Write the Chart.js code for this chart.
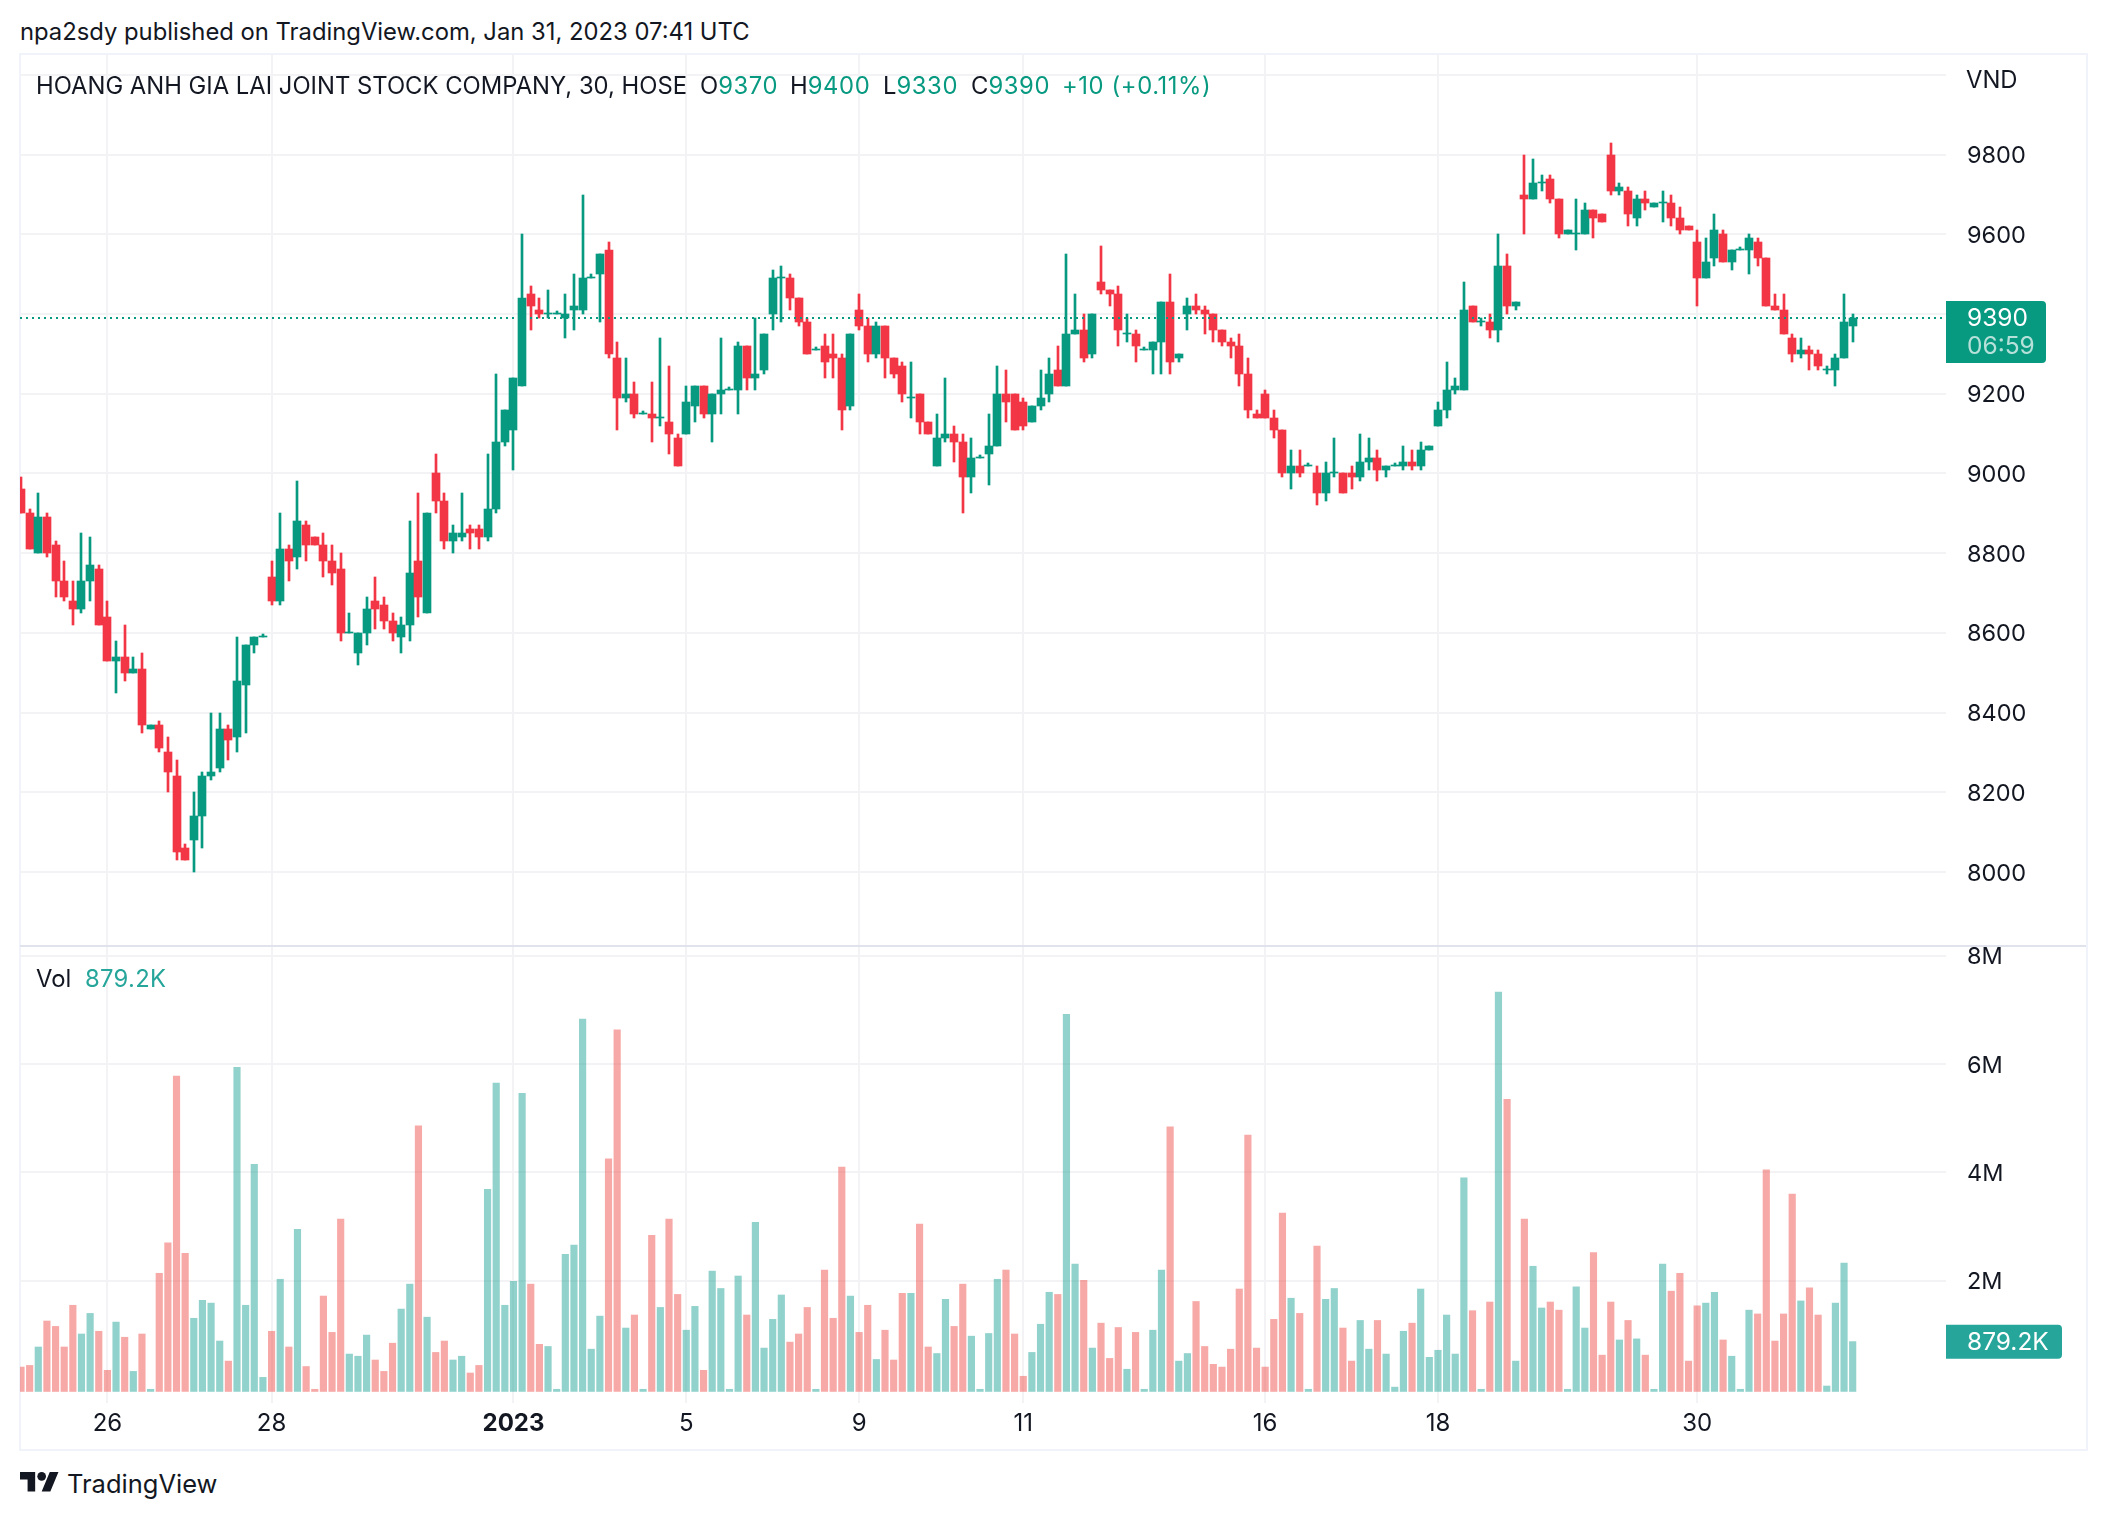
<!DOCTYPE html>
<html>
<head>
<meta charset="utf-8">
<title>HAG 30</title>
<script src="https://cdn.jsdelivr.net/npm/chart.js@4"></script>
<style>
  html, body { margin: 0; padding: 0; background: #fff; }
  body { width: 2106px; height: 1518px; position: relative; overflow: hidden;
         font-family: Inter, "Noto Sans", sans-serif; color: #131722; }
  canvas { position: absolute; left: 20px; }
  #priceCanvas { top: 54px; }
  #volCanvas { top: 930px; }
  .frame { position: absolute; left: 19px; top: 53px; width: 2065px; height: 1394px;
           border: 2px solid #f0f3fa; pointer-events: none; }
  .sep { position: absolute; left: 20px; top: 945px; width: 2066px; height: 2px; background: #e0e3eb; }
  .t { position: absolute; white-space: pre; font-size: 23.8px; line-height: 28px; }
  .g { color: #089981; letter-spacing: 0.6px; }
  .v { color: #26a69a; letter-spacing: 0.3px; }
</style>
</head>
<body>
<div class="t" style="left:20px;top:18px">npa2sdy published on TradingView.com, Jan 31, 2023 07:41 UTC</div>
<div class="frame"></div>
<canvas id="priceCanvas" width="2066" height="891"></canvas>
<canvas id="volCanvas" width="2066" height="520"></canvas>
<div class="sep"></div>
<div class="t" style="left:36px;top:72px">HOANG ANH GIA LAI JOINT STOCK COMPANY, 30, HOSE</div>
<div class="t" style="left:700px;top:72px">O<span class="g">9370</span></div>
<div class="t" style="left:790px;top:72px">H<span class="g">9400</span></div>
<div class="t" style="left:883px;top:72px">L<span class="g">9330</span></div>
<div class="t" style="left:971px;top:72px">C<span class="g">9390</span></div>
<div class="t g" style="left:1062px;top:72px">+10 (+0.11%)</div>
<div class="t" style="left:1966px;top:66px">VND</div>
<div class="t" style="left:36px;top:965px">Vol</div>
<div class="t v" style="left:85px;top:965px">879.2K</div>
<svg style="position:absolute;left:20px;top:1472px" width="39" height="19.5" viewBox="0 4 36 18">
  <path fill="#131722" d="M14 22H7V11H0V4h14v18zM28 22h-8l7.5-18h8L28 22z"/><circle fill="#131722" cx="20" cy="8" r="4"/>
</svg>
<div class="t" style="left:67px;top:1469px;font-size:25.5px;line-height:30px">TradingView</div>

<script>
const opens = [8960,8900,8800,8890,8820,8730,8680,8660,8730,8760,8640,8530,8540,8500,8510,8360,8370,8300,8240,8060,8080,8140,8240,8260,8360,8340,8470,8570,8590,8740,8680,8810,8790,8870,8840,8820,8780,8760,8600,8550,8600,8680,8670,8630,8590,8620,8780,8650,9000,8930,8830,8840,8860,8860,8840,8910,9080,9110,9220,9450,9410,9400,9400,9390,9410,9410,9490,9500,9560,9290,9190,9200,9150,9150,9140,9130,9090,9100,9170,9220,9150,9200,9210,9210,9320,9240,9260,9400,9490,9490,9440,9380,9310,9320,9300,9290,9170,9410,9370,9300,9370,9290,9270,9190,9200,9130,9020,9090,9100,9080,8990,9040,9050,9070,9200,9200,9180,9130,9170,9200,9260,9220,9350,9360,9300,9480,9460,9450,9350,9350,9310,9310,9330,9430,9290,9400,9420,9410,9400,9360,9330,9320,9250,9150,9200,9140,9110,9000,9020,9020,9000,8950,9000,9000,9000,8990,9030,9040,9010,9020,9020,9030,9020,9060,9120,9160,9210,9210,9420,9380,9380,9360,9520,9420,9700,9690,9730,9740,9690,9600,9600,9600,9660,9650,9800,9710,9710,9640,9690,9670,9680,9680,9640,9620,9580,9490,9540,9600,9530,9560,9560,9580,9540,9420,9410,9340,9300,9310,9300,9260,9260,9290,9370]
const highs = [8990,8910,8950,8900,8830,8780,8730,8850,8840,8770,8680,8580,8620,8540,8550,8370,8380,8340,8280,8070,8200,8250,8400,8400,8370,8590,8570,8590,8590,8780,8900,8820,8980,8880,8840,8850,8820,8800,8650,8600,8690,8740,8690,8650,8640,8880,8950,8900,9050,8950,8870,8950,8870,8870,9050,9250,9160,9240,9600,9470,9440,9460,9400,9450,9500,9700,9500,9550,9580,9330,9290,9230,9150,9230,9340,9270,9100,9220,9220,9220,9200,9340,9210,9330,9320,9390,9350,9510,9520,9500,9440,9390,9310,9350,9350,9300,9350,9450,9390,9380,9370,9290,9280,9280,9200,9130,9150,9240,9120,9100,9090,9040,9150,9270,9260,9200,9190,9170,9260,9290,9320,9550,9450,9400,9400,9570,9460,9470,9400,9360,9310,9330,9430,9500,9300,9440,9450,9420,9400,9360,9340,9350,9290,9160,9210,9160,9110,9060,9060,9020,9020,9030,9090,9000,9020,9100,9090,9060,9020,9020,9070,9060,9080,9070,9180,9280,9240,9480,9420,9390,9400,9600,9550,9430,9800,9790,9750,9750,9690,9610,9690,9680,9660,9650,9830,9730,9720,9700,9710,9680,9710,9700,9670,9620,9610,9590,9650,9610,9560,9560,9600,9590,9540,9450,9450,9350,9340,9320,9310,9270,9300,9450,9400]
const lows = [8900,8810,8800,8790,8690,8680,8620,8650,8680,8620,8530,8450,8480,8500,8350,8360,8300,8200,8030,8030,8000,8060,8230,8250,8280,8300,8350,8550,8590,8670,8670,8730,8760,8780,8820,8740,8720,8580,8600,8520,8570,8610,8610,8580,8550,8580,8640,8650,8900,8810,8800,8830,8810,8810,8830,8900,9070,9010,9220,9360,9390,9390,9400,9340,9360,9400,9490,9380,9290,9110,9180,9140,9150,9080,9120,9050,9020,9100,9130,9140,9080,9150,9210,9150,9210,9210,9250,9360,9380,9410,9370,9300,9310,9240,9240,9110,9160,9360,9280,9290,9240,9240,9180,9140,9100,9100,9020,9080,9030,8900,8950,9040,8970,9070,9130,9110,9110,9130,9160,9180,9220,9220,9350,9280,9290,9450,9420,9320,9330,9280,9310,9250,9250,9250,9280,9360,9400,9350,9330,9320,9290,9220,9140,9140,9140,9090,8990,8960,8990,9020,8920,8930,8990,8950,8960,8980,9010,8980,8990,9020,9010,9010,9010,9060,9120,9140,9200,9210,9380,9370,9340,9330,9400,9410,9600,9690,9710,9680,9590,9600,9560,9600,9590,9630,9700,9700,9620,9620,9660,9670,9630,9620,9600,9610,9420,9490,9520,9530,9510,9560,9500,9520,9420,9410,9350,9280,9290,9260,9260,9250,9220,9290,9330]
const closes = [8900,8810,8890,8800,8730,8690,8660,8730,8770,8620,8530,8540,8500,8510,8370,8370,8310,8250,8050,8030,8140,8240,8250,8360,8330,8480,8570,8590,8590,8680,8810,8780,8880,8820,8820,8780,8750,8600,8600,8600,8660,8660,8630,8600,8620,8750,8690,8900,8930,8830,8850,8850,8850,8840,8910,9080,9160,9240,9440,9420,9400,9400,9400,9400,9420,9490,9490,9550,9300,9190,9200,9150,9150,9140,9140,9100,9020,9180,9220,9150,9200,9210,9210,9320,9240,9250,9350,9490,9490,9440,9380,9300,9310,9280,9290,9160,9350,9370,9300,9370,9290,9250,9200,9190,9130,9100,9090,9100,9080,8990,9040,9040,9070,9200,9180,9110,9120,9170,9190,9250,9220,9350,9360,9290,9400,9460,9450,9360,9350,9320,9310,9330,9430,9280,9300,9420,9410,9400,9360,9330,9320,9250,9160,9140,9140,9110,9000,9020,9000,9020,8950,9000,9000,8950,8990,9030,9040,9010,9020,9020,9030,9020,9060,9070,9160,9210,9220,9410,9380,9380,9360,9520,9420,9430,9690,9730,9730,9690,9600,9610,9600,9660,9640,9630,9710,9720,9650,9690,9680,9680,9680,9640,9610,9610,9490,9530,9610,9530,9560,9560,9590,9540,9420,9410,9350,9300,9310,9300,9270,9260,9290,9380,9390]
// volume in millions of shares
const volumes = [0.41,0.44,0.78,1.26,1.16,0.78,1.55,1.02,1.40,1.07,0.35,1.24,0.96,0.33,1.02,0,2.14,2.70,5.78,2.51,1.31,1.64,1.59,0.89,0.52,5.94,1.55,4.15,0.22,1.07,2.03,0.78,2.95,0.42,0,1.72,1.05,3.14,0.65,0.61,1.00,0.54,0.33,0.85,1.48,1.94,4.86,1.33,0.68,0.89,0.54,0.61,0.30,0.44,3.69,5.65,1.55,1.99,5.46,1.94,0.83,0.79,0,2.49,2.66,6.83,0.74,1.35,4.25,6.63,1.13,1.37,0,2.84,1.51,3.14,1.75,1.09,1.53,0.35,2.18,1.86,0,2.09,1.37,3.08,0.76,1.29,1.74,0.87,1.02,1.51,0,2.20,1.31,4.10,1.72,1.05,1.55,0.55,1.09,0.54,1.77,1.77,3.05,0.78,0.66,1.66,1.16,1.94,0.98,0,1.03,2.03,2.20,1.02,0.24,0.68,1.20,1.79,1.75,6.92,2.31,2.01,0.76,1.22,0.57,1.14,0.37,1.05,0,1.09,2.20,4.84,0.52,0.66,1.62,0.79,0.46,0.41,0.74,1.85,4.69,0.76,0.41,1.29,3.25,1.68,1.40,0,2.64,1.66,1.86,1.13,0.52,1.27,0.74,1.27,0.65,0.04,1.07,1.22,1.85,0.59,0.72,1.37,0.65,3.90,1.45,0,1.61,7.33,5.35,0.52,3.14,2.27,1.50,1.61,1.46,0,1.89,1.13,2.52,0.63,1.61,0.91,1.27,0.93,0.63,0,2.31,1.81,2.14,0.52,1.54,1.59,1.79,0.91,0.61,0,1.46,1.39,4.05,0.89,1.39,3.60,1.63,1.87,1.37,0.06,1.59,2.33,0.88]

const priceTicks = [8000,8200,8400,8600,8800,9000,9200,9400,9600,9800,10000]
const volTicks = [2,4,6,8]
const volTickLabels = ["2M","4M","6M","8M"]
const timeTickBars = [10,29,57,77,97,116,144,164,194]
const timeTickLabels = ["26","28","2023","5","9","11","16","18","30"]

const lastPrice = 9390
const lastPriceTimer = "06:59"
const lastVol = 0.8792
const lastVolLabel = "879.2K"

const UP = "#089981"
const DOWN = "#F23645"
const VOL_UP = "rgba(38,166,154,0.5)"
const VOL_DOWN = "rgba(239,83,80,0.5)"
const GRID = "#f3f3f5"
const FONT = "Inter, 'Noto Sans', sans-serif"

const xMin = -0.116
const xMax = 222.8

const isUp = closes.map((c, i) => c >= opens[i])
const candleColors = isUp.map(u => u ? UP : DOWN)
const volColors = isUp.map(u => u ? VOL_UP : VOL_DOWN)

function timeAxis(showLabels) {
    return {
        type: "linear",
        min: xMin,
        max: xMax,
        offset: false,
        border: { display: false },
        grid: { color: GRID, lineWidth: 2, drawTicks: false, offset: false },
        afterBuildTicks(s) { s.ticks = timeTickBars.map(v => ({ value: v })) },
        afterFit(s) {
            s.height = showLabels ? 46 : 0
            s.paddingLeft = 0
            s.paddingRight = 0
        },
        ticks: {
            display: showLabels,
            autoSkip: false,
            maxRotation: 0,
            padding: 6,
            color: "#131722",
            font: ctx => ({ family: FONT, size: 24, weight: ctx.tick && ctx.tick.label === "2023" ? "700" : "400" }),
            callback: v => timeTickLabels[timeTickBars.indexOf(v)]
        }
    }
}

function sideAxis(min, max, ticks, label) {
    return {
        position: "right",
        min: min,
        max: max,
        border: { display: false },
        grid: { color: GRID, lineWidth: 2, drawTicks: false },
        afterBuildTicks(s) { s.ticks = ticks.map(v => ({ value: v })) },
        afterFit(s) {
            s.width = 140
            s.paddingTop = 0
            s.paddingBottom = 0
        },
        ticks: {
            autoSkip: false,
            crossAlign: "near",
            padding: 21,
            labelOffset: 1.5,
            color: "#131722",
            font: { family: FONT, size: 23.5 },
            callback: label
        }
    }
}

// price tag on the axis, follows the last value on the scale
function tagPlugin(value, color, h, offset, rows) {
    return {
        id: "tag",
        afterDraw(chart) {
            const c = chart.ctx
            const x = chart.chartArea.right
            const y = chart.scales.y.getPixelForValue(value) - offset
            c.save()
            c.fillStyle = color
            c.beginPath()
            c.roundRect(x, y, rows.w, h, [0, 4, 4, 0])
            c.fill()
            c.font = "24.5px " + FONT
            c.textBaseline = "middle"
            rows.lines.forEach(r => {
                c.fillStyle = r.color
                c.fillText(r.text, x + 21, y + r.dy)
            })
            c.restore()
        }
    }
}

// candles sit on whole pixels so the bodies stay sharp
const snapCandles = {
    id: "snapCandles",
    beforeDatasetsDraw(chart) {
        [1, 2].forEach(d => chart.getDatasetMeta(d).data.forEach(el => {
            el.x = Math.round(el.x)
            el.y = Math.round(el.y)
            el.base = Math.round(el.base)
        }))
    }
}

const priceChart = new Chart(document.getElementById("priceCanvas"), {
    type: "bar",
    data: {
        datasets: [
            {
                type: "line",
                order: 0,
                data: [{ x: xMin, y: lastPrice }, { x: xMax, y: lastPrice }],
                borderColor: UP,
                borderWidth: 2,
                borderDash: [2, 4],
                pointRadius: 0
            },
            {
                order: 1,
                grouped: false,
                barThickness: 8,
                minBarLength: 1,
                backgroundColor: candleColors,
                data: opens.map((o, i) => ({ x: i, y: [o, closes[i]] }))
            },
            {
                order: 2,
                grouped: false,
                barThickness: 2,
                minBarLength: 3,
                backgroundColor: candleColors,
                data: highs.map((h, i) => ({ x: i, y: [lows[i], h] }))
            }
        ]
    },
    options: {
        responsive: false,
        animation: false,
        plugins: { legend: { display: false }, tooltip: { enabled: false } },
        scales: {
            x: timeAxis(false),
            y: sideAxis(7816.8, 10052.7, priceTicks, v => v === 10000 ? "" : String(v))
        }
    },
    plugins: [snapCandles, tagPlugin(lastPrice, UP, 62, 17, {
        w: 100,
        lines: [
            { text: String(lastPrice), color: "#fff", dy: 18 },
            { text: lastPriceTimer, color: "rgba(255,255,255,0.7)", dy: 46 }
        ]
    })]
})

const volChart = new Chart(document.getElementById("volCanvas"), {
    type: "bar",
    data: {
        datasets: [{
            grouped: false,
            barThickness: 6.5,
            base: -0.04,
            backgroundColor: volColors,
            data: volumes.map((v, i) => ({ x: i, y: v }))
        }]
    },
    options: {
        responsive: false,
        animation: false,
        layout: { padding: { top: 17, bottom: 1 } },
        plugins: { legend: { display: false }, tooltip: { enabled: false } },
        scales: {
            x: timeAxis(true),
            y: sideAxis(-0.253, 8.16, volTicks, v => volTickLabels[volTicks.indexOf(v)])
        }
    },
    plugins: [tagPlugin(lastVol, "#26a69a", 34, 17, {
        w: 116,
        lines: [{ text: lastVolLabel, color: "#fff", dy: 18 }]
    })]
})
</script>
</body>
</html>
